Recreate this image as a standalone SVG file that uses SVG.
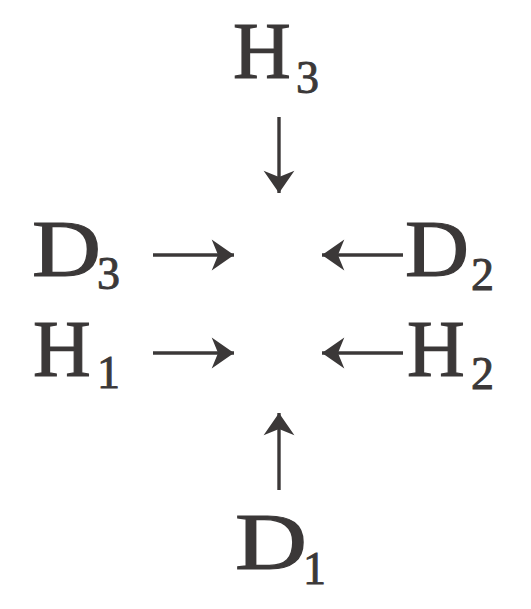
<svg xmlns="http://www.w3.org/2000/svg" width="531" height="609" viewBox="0 0 531 609">
<defs>
<style>
.m{font-family:"Liberation Serif","Times New Roman",serif;font-size:80px;fill:#3b3838;stroke:#3b3838;stroke-width:1.2}
.s{font-family:"Liberation Serif","Times New Roman",serif;font-size:46px;fill:#3b3838;stroke:#3b3838;stroke-width:0.9}
.c{stroke:#3b3838;stroke-width:3.4;fill:none}
</style>
<marker id="ah" markerUnits="userSpaceOnUse" markerWidth="30" markerHeight="34" viewBox="-22 -16 24 32" refX="0" refY="0" orient="auto">
<path d="M0,0 L-21,-14.5 L-15,0 L-21,14.5 Z" fill="#3b3838"/>
</marker>
</defs>
<rect width="531" height="609" fill="#ffffff"/>
<g id="H3"><text class="m" x="233" y="78">H</text><text class="s" x="296" y="93">3</text></g>
<g id="D3"><text class="m" x="32" y="276" textLength="69" lengthAdjust="spacingAndGlyphs">D</text><text class="s" x="97" y="289">3</text></g>
<g id="H1"><text class="m" x="33" y="376">H</text><text class="s" x="97" y="388">1</text></g>
<g id="D2"><text class="m" x="405" y="276" textLength="64" lengthAdjust="spacingAndGlyphs">D</text><text class="s" x="471" y="290">2</text></g>
<g id="H2"><text class="m" x="407" y="376">H</text><text class="s" x="471" y="389">2</text></g>
<g id="D1"><text class="m" x="235" y="569" textLength="72" lengthAdjust="spacingAndGlyphs">D</text><text class="s" x="303" y="584">1</text></g>
<g id="connectors">
<line class="c" x1="279" y1="117" x2="279" y2="193" marker-end="url(#ah)"/>
<line class="c" x1="153" y1="255" x2="234" y2="255" marker-end="url(#ah)"/>
<line class="c" x1="153" y1="353" x2="234" y2="353" marker-end="url(#ah)"/>
<line class="c" x1="403" y1="255" x2="322" y2="255" marker-end="url(#ah)"/>
<line class="c" x1="403" y1="353" x2="322" y2="353" marker-end="url(#ah)"/>
<line class="c" x1="279" y1="490" x2="279" y2="413" marker-end="url(#ah)"/>
</g>
</svg>
